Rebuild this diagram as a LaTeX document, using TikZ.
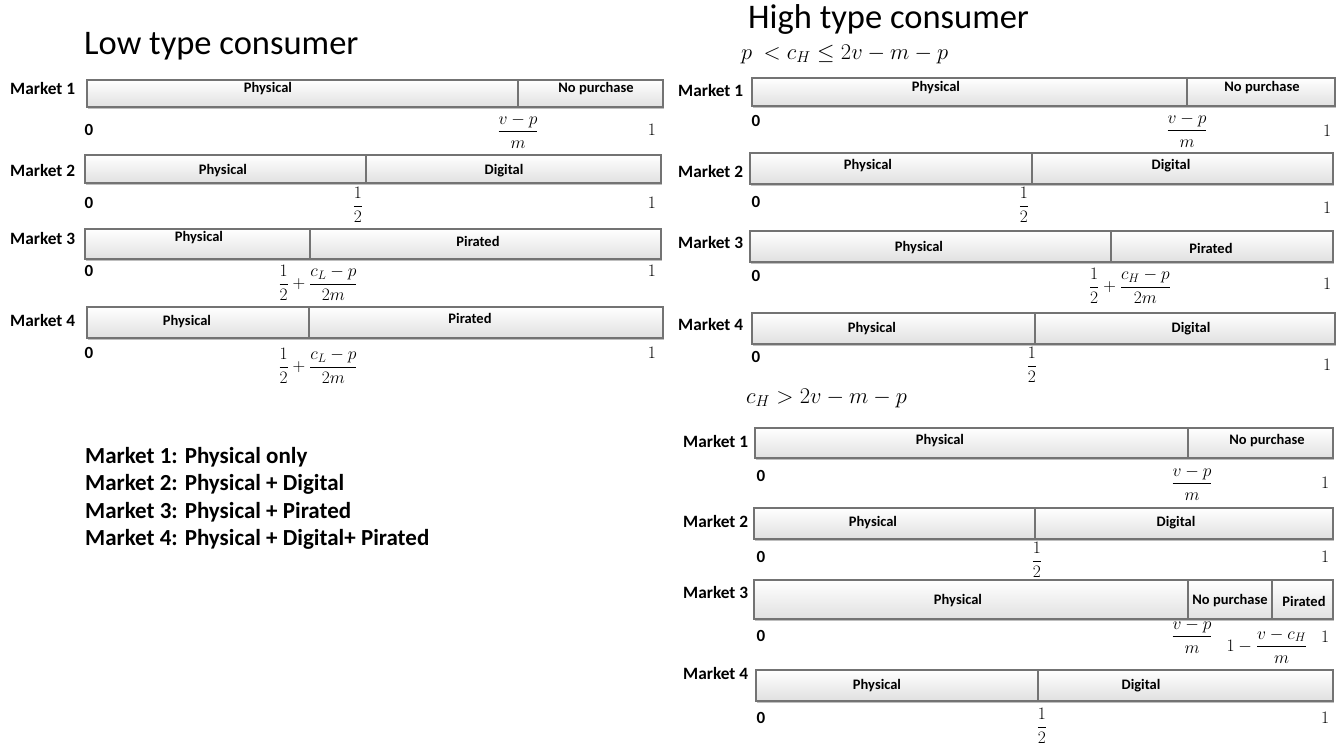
\RequirePackage{fix-cm}
\documentclass[tikz,border=0pt]{standalone}
\usepackage{amsmath}
\usepackage{fontspec}
\setmainfont{Carlito}
\usetikzlibrary{shadows}
\tikzset{
  seg/.style={draw=black!55, line width=1.1pt, top color=white, bottom color=black!12,
    drop shadow={shadow xshift=1.3pt, shadow yshift=-1.6pt, opacity=0.25, fill=black}},
  btxt/.style={font=\fontsize{14.5}{15}\selectfont\bfseries, inner sep=0pt},
  mlab/.style={font=\fontsize{17.3}{18}\selectfont\bfseries, inner sep=0pt, anchor=west},
  zero/.style={font=\fontsize{17}{18}\selectfont\bfseries, inner sep=0pt},
  one/.style={font=\fontsize{17.5}{18}\selectfont, inner sep=0pt},
  frac/.style={font=\fontsize{17.5}{18}\selectfont, inner sep=0pt},
  title/.style={font=\fontsize{34.5}{36}\selectfont, inner sep=0pt, anchor=west},
  cond/.style={font=\fontsize{22.5}{24}\selectfont, inner sep=0pt, anchor=west},
  legend/.style={font=\fontsize{23}{25}\selectfont\bfseries, inner sep=0pt, anchor=west},
}
\begin{document}
\begin{tikzpicture}[x=1pt,y=-1pt]
\useasboundingbox[fill=white] (0,0) rectangle (1339,746);
% ================= LEFT PANEL =================
\node[title] (tL) at (84,46) {Low type consumer};
% Market 1
\node[mlab] (l1) at (10,88) {Market 1};
\draw[seg] (87,80) rectangle (518,107);
\draw[seg] (518,80) rectangle (663,107);
\node[btxt] (l1a) at (268,89) {Physical};
\node[btxt] (l1b) at (596,89) {No purchase};
\node[zero] (l1z) at (89,130) {0};
\node[frac] (l1f) at (518,131) {$\dfrac{v-p}{m}$};
\node[one] (l1o) at (652,130) {$1$};
% Market 2
\node[mlab] (l2) at (10,170) {Market 2};
\draw[seg] (85,155) rectangle (366,183);
\draw[seg] (366,155) rectangle (661,183);
\node[btxt] (l2a) at (223,171) {Physical};
\node[btxt] (l2b) at (504,171) {Digital};
\node[zero] (l2z) at (89,203) {0};
\node[frac] (l2f) at (358,205) {$\dfrac{1}{2}$};
\node[one] (l2o) at (652,203) {$1$};
% Market 3
\node[mlab] (l3) at (10,238) {Market 3};
\draw[seg] (85,229) rectangle (310,259);
\draw[seg] (310,229) rectangle (661,259);
\node[btxt] (l3a) at (199,238) {Physical};
\node[btxt] (l3b) at (478,241) {Pirated};
\node[zero] (l3z) at (89,271) {0};
\node[frac] (l3f) at (318,283) {$\dfrac{1}{2}+\dfrac{c_L-p}{2m}$};
\node[one] (l3o) at (652,271) {$1$};
% Market 4
\node[mlab] (l4) at (10,320) {Market 4};
\draw[seg] (87,307) rectangle (309,338);
\draw[seg] (309,307) rectangle (663,338);
\node[btxt] (l4a) at (187,322) {Physical};
\node[btxt] (l4b) at (470,318) {Pirated};
\node[zero] (l4z) at (89,353) {0};
\node[frac] (l4f) at (318,366) {$\dfrac{1}{2}+\dfrac{c_L-p}{2m}$};
\node[one] (l4o) at (652,353) {$1$};
% Legend
\node[legend] (g1) at (85,457) {Market 1: Physical only};
\node[legend] (g2) at (85,484) {Market 2: Physical + Digital};
\node[legend] (g3) at (85,512) {Market 3: Physical + Pirated};
\node[legend] (g4) at (85,539) {Market 4: Physical + Digital+ Pirated};
% ================= RIGHT PANEL =================
\node[title] (tH) at (748,19) {High type consumer};
\node[cond] (cA) at (741,54) {$p\ <c_H\le 2v-m-p$};
% Market 1
\node[mlab] (r1) at (678,90) {Market 1};
\draw[seg] (752,78) rectangle (1187,106);
\draw[seg] (1187,78) rectangle (1335,106);
\node[btxt] (r1a) at (936,88) {Physical};
\node[btxt] (r1b) at (1262,88) {No purchase};
\node[zero] (r1z) at (756,121) {0};
\node[frac] (r1f) at (1187,130) {$\dfrac{v-p}{m}$};
\node[one] (r1o) at (1327,131) {$1$};
% Market 2
\node[mlab] (r2) at (678,171) {Market 2};
\draw[seg] (750,153) rectangle (1032,184);
\draw[seg] (1032,153) rectangle (1333,184);
\node[btxt] (r2a) at (868,166) {Physical};
\node[btxt] (r2b) at (1171,166) {Digital};
\node[zero] (r2z) at (756,202) {0};
\node[frac] (r2f) at (1024,205) {$\dfrac{1}{2}$};
\node[one] (r2o) at (1327,208) {$1$};
% Market 3
\node[mlab] (r3) at (678,242) {Market 3};
\draw[seg] (750,231) rectangle (1111,262);
\draw[seg] (1111,231) rectangle (1333,262);
\node[btxt] (r3a) at (919,248) {Physical};
\node[btxt] (r3b) at (1211,248) {Pirated};
\node[zero] (r3z) at (756,276) {0};
\node[frac] (r3f) at (1130,286) {$\dfrac{1}{2}+\dfrac{c_H-p}{2m}$};
\node[one] (r3o) at (1327,284) {$1$};
% Market 4
\node[mlab] (r4) at (678,324) {Market 4};
\draw[seg] (752,313) rectangle (1035,344);
\draw[seg] (1035,313) rectangle (1335,344);
\node[btxt] (r4a) at (872,329) {Physical};
\node[btxt] (r4b) at (1191,329) {Digital};
\node[zero] (r4z) at (756,357) {0};
\node[frac] (r4f) at (1032,365) {$\dfrac{1}{2}$};
\node[one] (r4o) at (1327,365) {$1$};
% second condition
\node[cond] (cB) at (746,398) {$c_H>2v-m-p$};
% Market 1
\node[mlab] (s1) at (683,441) {Market 1};
\draw[seg] (755,428) rectangle (1188,458);
\draw[seg] (1188,428) rectangle (1333,458);
\node[btxt] (s1a) at (940,441) {Physical};
\node[btxt] (s1b) at (1267,441) {No purchase};
\node[zero] (s1z) at (761,476) {0};
\node[frac] (s1f) at (1192,483) {$\dfrac{v-p}{m}$};
\node[one] (s1o) at (1325,483) {$1$};
% Market 2
\node[mlab] (s2) at (683,521) {Market 2};
\draw[seg] (754,508) rectangle (1035,539);
\draw[seg] (1035,508) rectangle (1333,539);
\node[btxt] (s2a) at (873,523) {Physical};
\node[btxt] (s2b) at (1176,523) {Digital};
\node[zero] (s2z) at (761,557) {0};
\node[frac] (s2f) at (1037,560) {$\dfrac{1}{2}$};
\node[one] (s2o) at (1325,557) {$1$};
% Market 3
\node[mlab] (s3) at (683,592) {Market 3};
\draw[seg] (754,580) rectangle (1188,619);
\draw[seg] (1188,580) rectangle (1272,619);
\draw[seg] (1272,580) rectangle (1333,619);
\node[btxt] (s3a) at (958,601) {Physical};
\node[btxt] (s3b) at (1230,601) {No purchase};
\node[btxt] (s3c) at (1304,601) {Pirated};
\node[zero] (s3z) at (761,636) {0};
\node[frac] (s3f) at (1192,636) {$\dfrac{v-p}{m}$};
\node[frac] (s3g) at (1267,646) {$1-\dfrac{v-c_H}{m}$};
\node[one] (s3o) at (1325,637) {$1$};
% Market 4
\node[mlab] (s4) at (683,673) {Market 4};
\draw[seg] (756,670) rectangle (1038,701);
\draw[seg] (1038,670) rectangle (1333,701);
\node[btxt] (s4a) at (877,686) {Physical};
\node[btxt] (s4b) at (1141,686) {Digital};
\node[zero] (s4z) at (761,718) {0};
\node[frac] (s4f) at (1042,726) {$\dfrac{1}{2}$};
\node[one] (s4o) at (1325,718) {$1$};
\end{tikzpicture}
\end{document}
